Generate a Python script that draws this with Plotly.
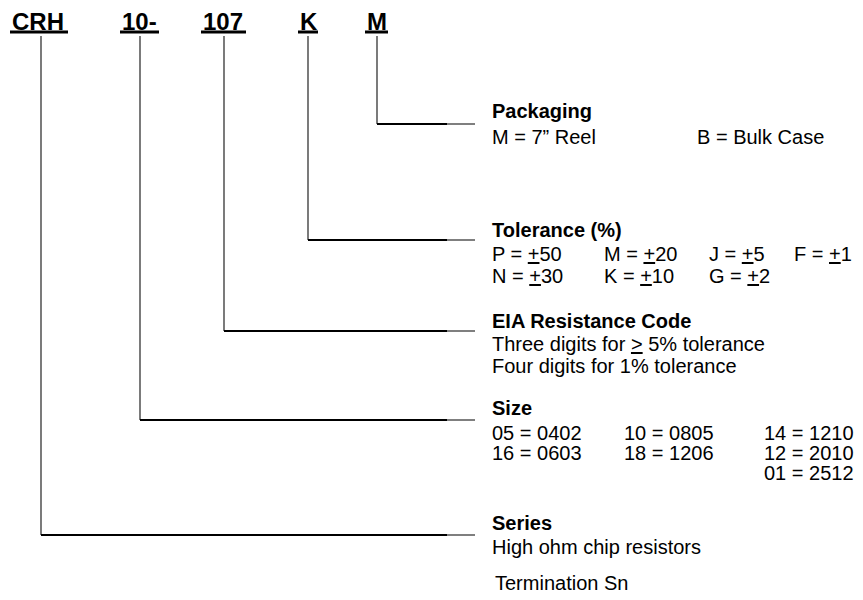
import plotly.graph_objects as go

# ---- content ----
code_parts = ["CRH", "10-", "107", "K", "M"]
section_titles = ["Packaging", "Tolerance (%)", "EIA Resistance Code", "Size", "Series"]
packaging_rows = [["M = 7\u201d Reel", "B = Bulk Case"]]
tolerance_rows = [["P = <u>+</u>50", "M = <u>+</u>20", "J = <u>+</u>5", "F = <u>+</u>1"],
                  ["N = <u>+</u>30", "K = <u>+</u>10", "G = <u>+</u>2"]]
eia_rows = [["Three digits for <u>&gt;</u> 5% tolerance"], ["Four digits for 1% tolerance"]]
size_rows = [["05 = 0402", "10 = 0805", "14 = 1210"],
             ["16 = 0603", "18 = 1206", "12 = 2010"],
             ["", "", "01 = 2512"]]
series_rows = [["High ohm chip resistors"]]
footnote = "Termination Sn"

# ---- layout (pixel positions in the 863x600 frame) ----
PAGE_OFFSET = 8  # default body margin of the html page
code_x = [10, 120, 201, 298, 365]
code_w = [58, 39, 45, 20, 23]
code_y = 21
underline_y = 32
stem_x = [41, 140, 224, 308, 377]
stem_top = 36
part_to_section = [4, 3, 2, 1, 0]
section_line_y = [124, 240, 331, 420, 535]
section_title_y = [111, 230, 321, 408, 523]
first_row_gap = [26, 24, 23, 25, 24]
row_h = [22, 22, 22, 20, 22]
text_x0 = 490
line_end_x = 475
line_fade_x = 447
section_rows = [packaging_rows, tolerance_rows, eia_rows, size_rows, series_rows]
col_x = [[490, 695], [490, 602, 707, 792], [490], [490, 622, 762], [490]]
footnote_xy = (493, 583)

FONT = "Liberation Sans, Arial, sans-serif"
BODY = 20
HEAD = 20
TOP = 24

fig = go.Figure()
shapes = []
annotations = []

for i, part in enumerate(code_parts):
    annotations.append(dict(x=code_x[i], y=code_y, text=f"<b>{part}</b>", xanchor="left",
                            yanchor="middle", showarrow=False,
                            font=dict(family=FONT, size=TOP, color="black")))
    shapes.append(dict(type="line", x0=code_x[i], x1=code_x[i] + code_w[i], y0=underline_y,
                       y1=underline_y, line=dict(color="black", width=3)))
    s = part_to_section[i]
    shapes.append(dict(type="line", x0=stem_x[i], x1=stem_x[i], y0=stem_top,
                       y1=section_line_y[s], line=dict(color="#333", width=1.3)))
    shapes.append(dict(type="line", x0=stem_x[i], x1=line_fade_x, y0=section_line_y[s],
                       y1=section_line_y[s], line=dict(color="black", width=2)))
    shapes.append(dict(type="line", x0=line_fade_x, x1=line_end_x, y0=section_line_y[s],
                       y1=section_line_y[s], line=dict(color="#555", width=1.5)))

for s, title in enumerate(section_titles):
    annotations.append(dict(x=text_x0, y=section_title_y[s], text=f"<b>{title}</b>",
                            xanchor="left", yanchor="middle", showarrow=False,
                            font=dict(family=FONT, size=HEAD, color="black")))
    for r, row in enumerate(section_rows[s]):
        for c, cell in enumerate(row):
            if not cell:
                continue
            y = section_title_y[s] + first_row_gap[s] + row_h[s] * r
            annotations.append(dict(x=col_x[s][c], y=y, text=cell, xanchor="left",
                                    yanchor="middle", showarrow=False,
                                    font=dict(family=FONT, size=BODY, color="black")))

annotations.append(dict(x=footnote_xy[0], y=footnote_xy[1], text=footnote, xanchor="left",
                        yanchor="middle", showarrow=False,
                        font=dict(family=FONT, size=BODY, color="black")))

fig.update_layout(
    width=863, height=600, margin=dict(l=0, r=0, t=0, b=0),
    paper_bgcolor="white", plot_bgcolor="white",
    xaxis=dict(range=[PAGE_OFFSET, 863 + PAGE_OFFSET], visible=False, fixedrange=True),
    yaxis=dict(range=[600 + PAGE_OFFSET, PAGE_OFFSET], visible=False, fixedrange=True),
    shapes=shapes, annotations=annotations, showlegend=False,
)
fig.write_html("out.html")
